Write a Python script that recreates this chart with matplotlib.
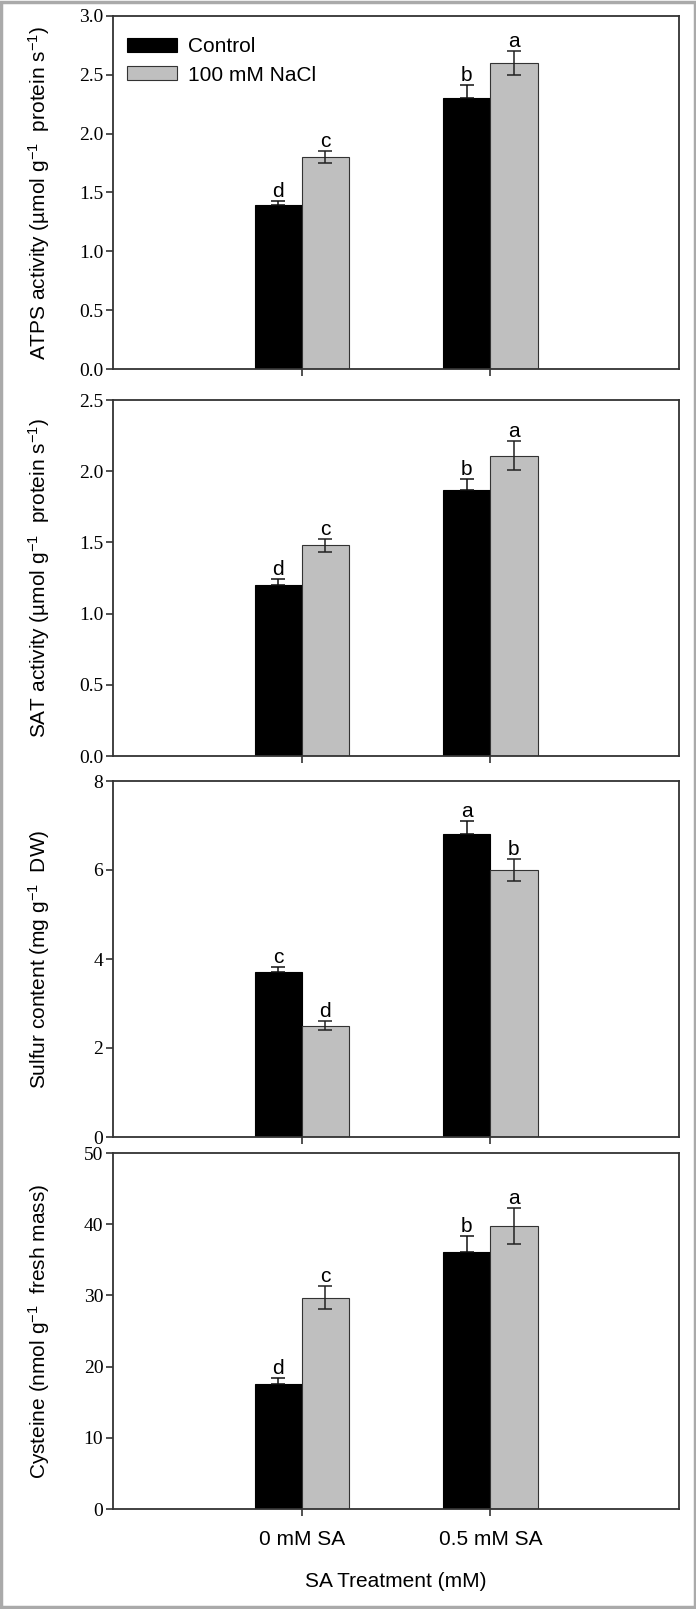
import numpy as np
import matplotlib
matplotlib.use('Agg')
import matplotlib.pyplot as plt
from matplotlib.patches import Rectangle

plt.rcParams['font.family'] = 'Liberation Sans'
plt.rcParams['mathtext.fontset'] = 'custom'
plt.rcParams['mathtext.rm'] = 'Liberation Sans'
plt.rcParams['mathtext.it'] = 'Liberation Sans:italic'

# data
groups = ['0 mM SA', '0.5 mM SA']
series = ['Control', '100 mM NaCl']

atps_control = [1.39, 2.30]
atps_control_err = [0.04, 0.11]
atps_nacl = [1.80, 2.60]
atps_nacl_err = [0.05, 0.10]
atps_letters = [['d', 'b'], ['c', 'a']]

sat_control = [1.20, 1.87]
sat_control_err = [0.04, 0.075]
sat_nacl = [1.48, 2.11]
sat_nacl_err = [0.045, 0.10]
sat_letters = [['d', 'b'], ['c', 'a']]

sulfur_control = [3.70, 6.80]
sulfur_control_err = [0.12, 0.30]
sulfur_nacl = [2.50, 6.00]
sulfur_nacl_err = [0.10, 0.24]
sulfur_letters = [['c', 'a'], ['d', 'b']]

cys_control = [17.5, 36.1]
cys_control_err = [0.95, 2.2]
cys_nacl = [29.7, 39.7]
cys_nacl_err = [1.6, 2.55]
cys_letters = [['d', 'b'], ['c', 'a']]

panels = [
    (atps_control, atps_control_err, atps_nacl, atps_nacl_err, atps_letters,
     'ATPS activity (µmol g$^{-1}$  protein s$^{-1}$)', np.arange(0, 3.01, 0.5), '%.1f'),
    (sat_control, sat_control_err, sat_nacl, sat_nacl_err, sat_letters,
     'SAT activity (µmol g$^{-1}$  protein s$^{-1}$)', np.arange(0, 2.51, 0.5), '%.1f'),
    (sulfur_control, sulfur_control_err, sulfur_nacl, sulfur_nacl_err, sulfur_letters,
     'Sulfur content (mg g$^{-1}$  DW)', np.arange(0, 8.1, 2), '%d'),
    (cys_control, cys_control_err, cys_nacl, cys_nacl_err, cys_letters,
     'Cysteine (nmol g$^{-1}$  fresh mass)', np.arange(0, 50.1, 10), '%d'),
]

W, H = 696, 1609
fig = plt.figure(figsize=(W / 100, H / 100), dpi=100)

# axes boxes in pixels (top, bottom)
boxes = [(16, 369), (400, 756), (781, 1137), (1153, 1509)]
left_px, right_px = 113, 679

x = np.arange(1, len(groups) + 1)
w = 0.25
spine_col = '#333333'

for i, (ctrl, ctrl_err, nacl, nacl_err, letters, ylabel, yticks, fmt) in enumerate(panels):
    top, bot = boxes[i]
    ax = fig.add_axes([left_px / W, 1 - bot / H, (right_px - left_px) / W, (bot - top) / H])

    ax.bar(x - w / 2, ctrl, w, color='black', edgecolor='black', linewidth=0.8,
           label=series[0], zorder=2)
    ax.bar(x + w / 2, nacl, w, color='#bfbfbf', edgecolor='#333333', linewidth=0.8,
           label=series[1], zorder=2)
    # lower half of the control bars' error bars is hidden by the black fill
    ax.errorbar(x - w / 2, ctrl, yerr=[np.zeros(len(ctrl)), ctrl_err], fmt='none',
                ecolor='#111111', elinewidth=1.1, capsize=5, capthick=1.1, zorder=3)
    ax.errorbar(x + w / 2, nacl, yerr=nacl_err, fmt='none', ecolor='#222222',
                elinewidth=1.1, capsize=5, capthick=1.1, zorder=3)

    for j in range(len(groups)):
        ax.annotate(letters[0][j], (x[j] - w / 2, ctrl[j] + ctrl_err[j]),
                    xytext=(0, 0), textcoords='offset points',
                    ha='center', va='bottom', fontsize=15)
        ax.annotate(letters[1][j], (x[j] + w / 2, nacl[j] + nacl_err[j]),
                    xytext=(0, 0), textcoords='offset points',
                    ha='center', va='bottom', fontsize=15)

    ax.set_xlim(0, 3)
    ax.set_ylim(yticks[0], yticks[-1])
    ax.set_yticks(yticks)
    ax.set_yticklabels([fmt % v for v in yticks], family='Liberation Serif', fontsize=14)
    ax.set_xticks(x)
    ax.tick_params(axis='both', direction='out', length=5, width=1.2, color=spine_col)
    ax.tick_params(axis='y', pad=2)
    for sp in ax.spines.values():
        sp.set_color(spine_col)
        sp.set_linewidth(1.3)

    ax.set_ylabel(ylabel, fontsize=15, va='center')
    ax.yaxis.set_label_coords((39 - left_px) / (right_px - left_px), 0.5)

    if i == 0:
        ax.legend(loc='upper left', bbox_to_anchor=(0.025, 0.94), frameon=False,
                  fontsize=15, handlelength=2.4, handleheight=0.62,
                  handletextpad=0.5, labelspacing=0.45, borderaxespad=0, borderpad=0)

    if i == len(panels) - 1:
        ax.set_xticklabels(groups, fontsize=15)
        ax.tick_params(axis='x', pad=10)
        ax.set_xlabel('SA Treatment (mM)', fontsize=15, labelpad=17)
    else:
        ax.set_xticklabels([])

# light grey frame round the figure
fig.patches.append(Rectangle((0.002, 0.001), 0.996, 0.998, transform=fig.transFigure,
                             fill=False, edgecolor='#aaaaaa', linewidth=2.5))

fig.savefig('out.png', dpi=100)
